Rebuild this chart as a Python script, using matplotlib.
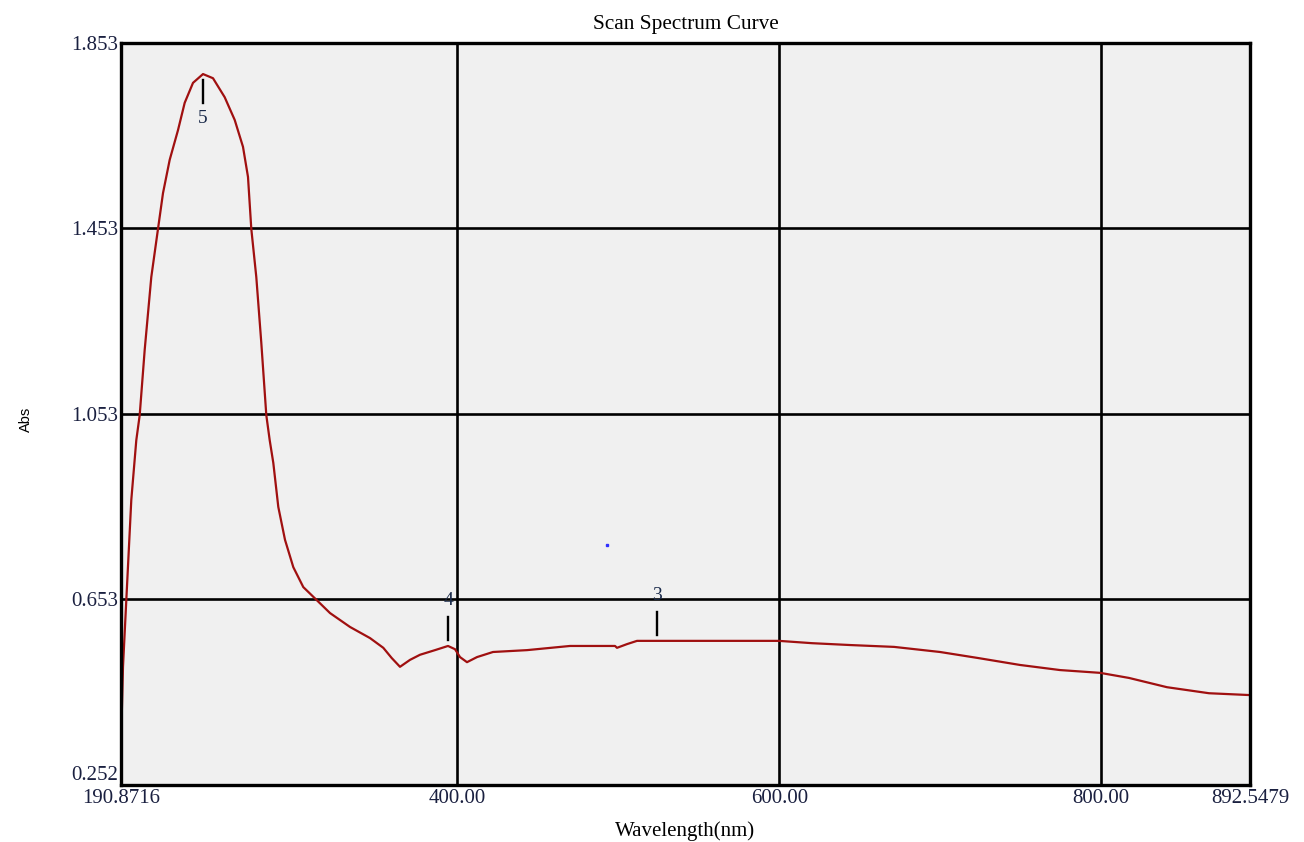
#
# Scan spectrum curve (UV-Vis absorbance) redrawn with matplotlib
#

import numpy as np
import matplotlib
matplotlib.use('Agg')
import matplotlib.pyplot as plt

plt.rcParams['font.family'] = ['Liberation Serif', 'DejaVu Serif']

# Curve: wavelength (nm) and absorbance
wavelength = [190.87, 191.06, 191.06, 192.11, 194.17, 197.27, 200.38, 202.49,
              205.60, 209.70, 213.87, 216.97, 221.14, 226.30, 230.46, 235.62,
              241.84, 248.05, 255.32, 261.54, 266.69, 269.80, 271.85, 274.96,
              278.07, 281.18, 283.29, 285.53, 288.63, 292.80, 297.96, 304.17,
              312.50, 320.77, 333.20, 345.63, 353.89, 359.11, 364.27, 370.49,
              376.70, 386.02, 394.11, 398.46, 401.56, 405.91, 412.13, 422.07,
              443.20, 469.93, 497.90, 499.14, 505.36, 511.57, 550.73, 599.83,
              620.34, 643.96, 671.30, 699.89, 723.51, 749.61, 774.47, 799.33,
              817.35, 840.97, 867.07, 892.55]
absorbance = [0.252, 0.328, 0.364, 0.507, 0.651, 0.867, 0.996, 1.050,
              1.191, 1.348, 1.452, 1.529, 1.601, 1.665, 1.724, 1.767,
              1.786, 1.777, 1.736, 1.687, 1.629, 1.564, 1.452, 1.348,
              1.206, 1.050, 0.996, 0.947, 0.852, 0.781, 0.722, 0.679,
              0.651, 0.623, 0.593, 0.569, 0.548, 0.526, 0.507, 0.522,
              0.533, 0.543, 0.552, 0.545, 0.528, 0.517, 0.528, 0.539,
              0.543, 0.552, 0.552, 0.548, 0.556, 0.563, 0.563, 0.563,
              0.558, 0.554, 0.550, 0.539, 0.526, 0.511, 0.500, 0.494,
              0.483, 0.463, 0.450, 0.446]

# Peak picks (number, wavelength, abs, label below the curve?)
peak_ids = ['5', '4', '3']
peak_wl = [241.84, 394.11, 524.0]
peak_abs = [1.786, 0.552, 0.563]
peak_below = [True, False, False]

x_min, x_max = 190.8716, 892.5479
y_min, y_max = 0.252, 1.853
x_ticks = [190.8716, 400.0, 600.0, 800.0, 892.5479]
x_tick_labels = ['190.8716', '400.00', '600.00', '800.00', '892.5479']
y_ticks = [0.252, 0.653, 1.053, 1.453, 1.853]
y_tick_labels = ['0.252', '0.653', '1.053', '1.453', '1.853']
x_grid = [400.0, 600.0, 800.0]
y_grid = [0.653, 1.053, 1.453]

fig = plt.figure(figsize=(13.04, 8.42), dpi=100)
ax = fig.add_axes([121/1304, 1 - 785/842, (1250-121)/1304, (785-43)/842])
ax.set_facecolor('#f0f0f0')

# grid lines
for gx in x_grid:
    ax.axvline(gx, color='black', lw=1.9, zorder=1)
for gy in y_grid:
    ax.axhline(gy, color='black', lw=1.9, zorder=1)

ax.plot(wavelength, absorbance, color='#a01010', lw=1.6, zorder=3,
        solid_joinstyle='round', solid_capstyle='round')

# stray dot in the original
ax.plot([492.9], [0.770], marker='s', ms=1.5, color='#3030ff', zorder=3)

# peak marks
for pid, px, py, below in zip(peak_ids, peak_wl, peak_abs, peak_below):
    if below:
        ax.plot([px, px], [py - 0.013, py - 0.062], color='black', lw=1.7, zorder=4)
        ax.text(px, py - 0.095, pid, ha='center', va='center', fontsize=14, color='#1a2a4a')
    else:
        ax.plot([px, px], [py + 0.013, py + 0.062], color='black', lw=1.7, zorder=4)
        ax.text(px, py + 0.098, pid, ha='center', va='center', fontsize=14, color='#1a2a4a')

ax.set_xlim(x_min, x_max)
ax.set_ylim(y_min, y_max)
ax.set_xticks(x_ticks)
ax.set_xticklabels(x_tick_labels)
ax.set_yticks(y_ticks)
ax.set_yticklabels(y_tick_labels)
ax.tick_params(axis='both', length=0, labelsize=15, colors='#1a2040')
ax.tick_params(axis='x', pad=3)
ax.tick_params(axis='y', pad=2)
ax.get_yticklabels()[0].set_va('bottom')

for s in ax.spines.values():
    s.set_linewidth(2.4)
    s.set_color('black')
    s.set_zorder(5)

ax.set_title('Scan Spectrum Curve', fontsize=15.3, pad=10)
fig.text(685/1304, 1 - 831/842, 'Wavelength(nm)', ha='center', va='center', fontsize=15)
fig.text(26/1304, 1 - 419/842, 'Abs', ha='center', va='center', rotation=90,
         fontsize=10.5, family=['Liberation Sans', 'DejaVu Sans'])

fig.savefig('out.png', dpi=100)
